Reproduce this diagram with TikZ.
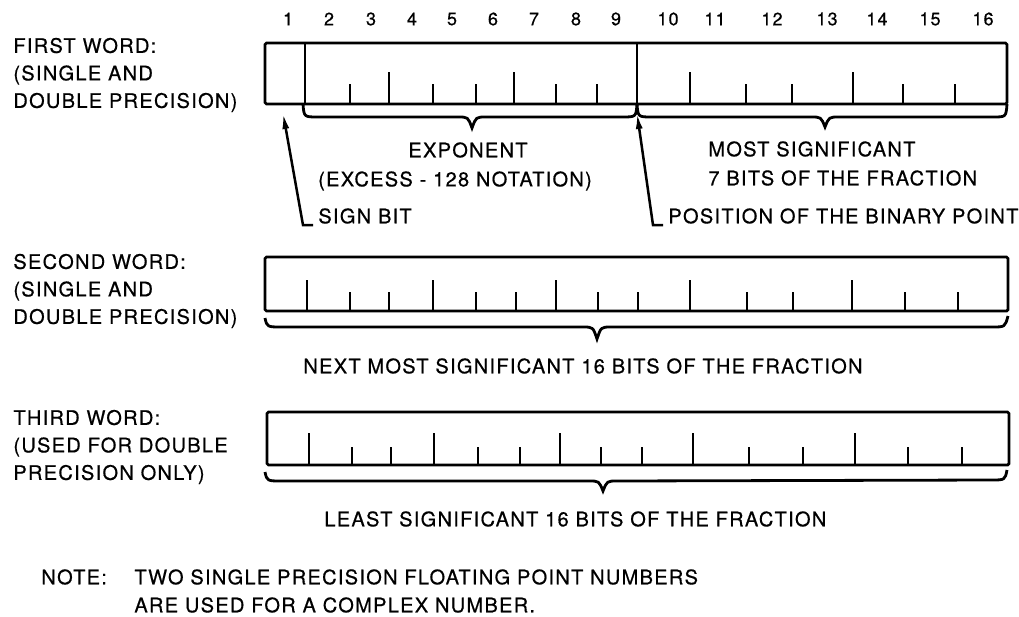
\documentclass[tikz,border=0pt]{standalone}
\usepackage{fontspec}
\setmainfont{TeX Gyre Heros}[LetterSpace=6.5, FakeBold=0.6]
\usetikzlibrary{positioning,arrows.meta}

\begin{document}
\begin{tikzpicture}[x=1pt, y=-1pt, line width=2.8pt,
  word/.style={rounded corners=1.5pt},
  lbl/.style={anchor=west, inner sep=0pt, align=left, font=\fontsize{20}{27.5}\selectfont},
  ctr/.style={inner sep=0pt, font=\fontsize{20}{27.5}\selectfont},
  bitno/.style={inner sep=0pt, font=\fontsize{18}{20}\selectfont},
  pointer/.style={line width=2.5pt, -{Latex[length=16pt,width=7pt]}}]

\useasboundingbox (0,0) rectangle (1019,616);

% Word labels on the left
\node[lbl] (first)  at (12,75)  {FIRST WORD:\\(SINGLE AND\\DOUBLE PRECISION)};
\node[lbl] (second) at (12,291) {SECOND WORD:\\(SINGLE AND\\DOUBLE PRECISION)};
\node[lbl] (third)  at (12,447) {THIRD WORD:\\(USED FOR DOUBLE\\PRECISION ONLY)};

% Bit numbers above the first word
\foreach \n/\x in {1/288, 2/329, 3/371, 4/412, 5/452, 6/493, 7/534, 8/576,
                   9/616, 10/668, 11/715, 12/772, 13/827, 14/877, 15/930, 16/983}
  \node[bitno] (bit\n) at (\x,19) {\n};

% First word: sign bit, exponent, fraction
\draw[word] (265,43) rectangle (1007,104);
\draw (305,43) -- (305,104);
\draw (637,43) -- (637,104);
\foreach \x/\h in {350/20, 389/32, 433/20, 476/20, 514/32, 556/20, 597/20,
                   690/32, 746/20, 792/20, 853/32, 903/20, 955/20}
  \draw (\x,104) -- ++(0,-\h);

% Braces under the first word
\draw (303,104) .. controls (304,117) .. (318,117) -- (458,117)
  .. controls (468,117) .. (472,128) .. controls (476,117) .. (486,117)
  -- (622,117) .. controls (636,117) .. (637,104);
\draw (637,104) .. controls (638,117) .. (652,117) -- (811,117)
  .. controls (821,117) .. (825,127) .. controls (829,117) .. (839,117)
  -- (993,117) .. controls (1006,117) .. (1007,104);

\node[ctr] (expo)   at (468,150) {EXPONENT};
\node[ctr] (excess) at (455,181) {(EXCESS - 128 NOTATION)};
\node[lbl] (msig)   at (707,149) {MOST SIGNIFICANT};
\node[lbl] (msig7)  at (707,178) {7 BITS OF THE FRACTION};

% Pointers to sign bit and binary point
\node[lbl] (signbit) at (317,216) {SIGN BIT};
\node[lbl] (binpt)   at (667,216) {POSITION OF THE BINARY POINT};
\coordinate (signtip)  at (283,113);
\coordinate (binptip)  at (637,113);
\coordinate (signelbow) at ([xshift=-14pt]signbit.south west);
\coordinate (binelbow)  at ([xshift=-14pt]binpt.south west);
\draw[pointer] ([xshift=-4pt]signbit.south west) -- (signelbow) -- (signtip);
\draw[pointer] ([xshift=-4pt]binpt.south west) -- (binelbow) -- (binptip);

% Second word
\draw[word] (265,257) rectangle (1008,311);
\foreach \x/\h in {307/31, 350/19, 389/19, 433/31, 476/19, 516/19, 556/31, 598/19,
                   638/19, 690/31, 747/19, 793/19, 852/31, 905/19, 958/19}
  \draw (\x,311) -- ++(0,-\h);
\draw (265,318) .. controls (267,327) .. (282,327) -- (583,327)
  .. controls (593,327) .. (597,339) .. controls (601,327) .. (611,327)
  -- (992,327) .. controls (1005,327) .. (1008,316);
\node[lbl] (next16) at (302,366) {NEXT MOST SIGNIFICANT 16 BITS OF THE FRACTION};

% Third word
\draw[word] (267,412) rectangle (1009,465);
\foreach \x/\h in {309/32, 352/18, 391/18, 434/32, 478/18, 520/18, 560/32, 601/18,
                   642/18, 693/32, 749/18, 803/18, 855/32, 908/18, 962/18}
  \draw (\x,465) -- ++(0,-\h);
\draw (265,472) .. controls (267,481) .. (282,481) -- (589,481)
  .. controls (599,481) .. (603,491) .. controls (607,481) .. (617,481)
  -- (991,480) .. controls (1005,480) .. (1007,470);
\node[lbl] (least16) at (323,519) {LEAST SIGNIFICANT 16 BITS OF THE FRACTION};

% Note
\node[lbl] (note)  at (40,577)  {NOTE:};
\node[lbl] (note1) at (133,577) {TWO SINGLE PRECISION FLOATING POINT NUMBERS};
\node[lbl] (note2) at (133,605) {ARE USED FOR A COMPLEX NUMBER.};

\end{tikzpicture}
\end{document}
